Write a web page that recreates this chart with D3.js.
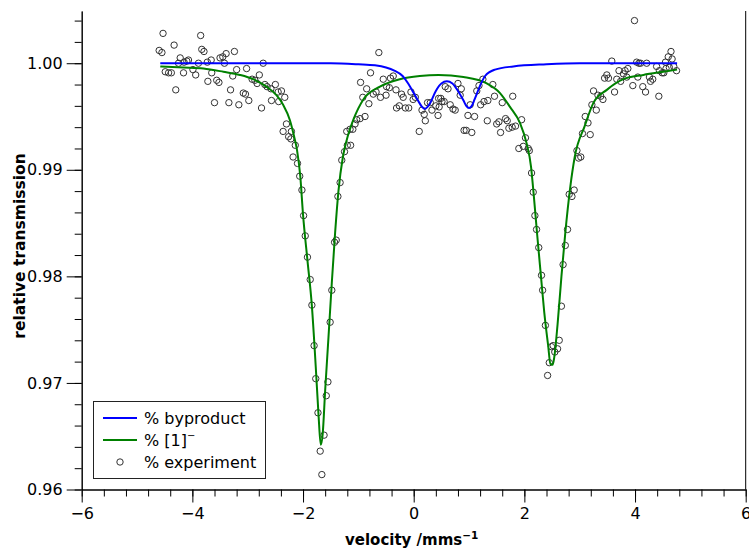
<!DOCTYPE html>
<html><head><meta charset="utf-8">
<script src="https://cdn.jsdelivr.net/npm/d3@7"></script>
<style>body{margin:0;background:#fff}svg{display:block}</style>
</head><body>
<svg id="c" width="749" height="550"></svg>
<script>
// experiment (velocity mm/s, relative transmission)
const expVelocity = [
-4.53,-3.85,-4.60,-4.55,-4.33,-3.83,-3.79,-4.22,-4.10,-4.07,-4.25,-4.15,-3.89,-3.73,-3.66,-3.50,-3.45,-3.39,-3.24,-3.42,-2.72,
-4.49,-4.43,-4.38,-4.16,-3.99,-3.94,-3.65,-4.30,-3.72,-3.56,-3.52,-3.27,-3.20,-3.02,-3.31,-2.92,-2.87,-2.83,-2.79,
-3.08,-3.04,-2.98,-3.60,-3.34,-3.16,-2.75,-2.69,-2.65,-2.58,-2.50,-2.45,-2.39,-2.33,-2.57,-2.44,-2.30,-2.36,-2.21,-2.26,-2.22,-2.14,
-2.18,-2.10,-2.06,-2.02,-1.99,-1.96,-1.92,-1.87,-1.84,-1.80,-1.77,-1.73,-1.69,-1.66,
-1.62,-1.58,-1.55,-1.51,-1.48,-1.43,-1.40,-1.37,-1.33,-1.30,-1.25,
-1.20,-1.14,-1.21,-1.15,-1.10,-1.06,-1.03,-0.97,-0.88,-0.96,-0.92,-0.81,-0.85,-0.78,-0.73,-0.68,-0.63,-0.60,-0.55,-0.50,-0.49,
-0.44,-0.42,-0.37,-0.32,-0.31,-0.26,-0.22,-0.19,-0.15,-0.09,-0.05,-0.01,0.03,0.10,0.15,0.19,0.21,0.25,0.30,0.33,0.40,0.45,
0.46,0.49,0.51,0.57,0.62,0.55,0.66,0.44,0.71,0.75,0.80,0.86,0.84,0.91,0.95,0.98,1.10,1.05,1.02,1.14,1.18,1.25,1.21,1.27,1.34,1.33,
1.43,1.46,1.50,1.54,1.57,1.60,1.66,1.69,1.72,1.78,1.79,1.84,1.95,1.90,1.98,2.07,2.09,2.02,2.13,2.16,
2.19,2.22,2.26,2.31,2.33,2.38,2.45,2.42,2.49,2.52,2.55,2.60,2.63,2.67,2.70,2.74,2.78,2.81,2.86,2.90,2.95,2.98,3.02,
3.05,3.10,3.15,3.19,3.22,3.25,3.30,3.33,3.38,3.42,3.45,3.49,3.52,3.58,3.63,3.67,3.71,3.74,3.79,3.82,3.87,3.85,3.96,3.99,
4.03,4.07,4.10,4.05,4.14,4.19,4.21,4.26,4.28,4.32,4.39,4.43,4.44,4.49,4.52,4.55,4.60,4.65,4.67,4.56,4.62,4.70,4.75
];
const expTransmission = [
1.0028,1.0026,1.0012,1.0010,1.0017,1.0013,1.0011,1.0005,1.0002,1.0003,1.0000,1.0001,1.0000,1.0001,1.0003,1.0005,1.0006,1.0009,1.0011,1.0000,1.0000,
0.9992,0.9991,0.9991,0.9991,0.9994,0.9989,0.9991,0.9975,0.9983,0.9984,0.9982,0.9988,0.9994,0.9995,0.9975,0.9985,0.9984,0.9981,0.9989,
0.9972,0.9971,0.9965,0.9963,0.9963,0.9961,0.9958,0.9980,0.9978,0.9976,0.9980,0.9973,0.9974,0.9968,0.9965,0.9964,0.9943,0.9936,0.9936,0.9931,0.9929,0.9923,
0.9912,0.9906,0.9894,0.9881,0.9857,0.9838,0.9818,0.9797,0.9773,0.9735,0.9704,0.9672,0.9636,0.9614,
0.9651,0.9688,0.9701,0.9757,0.9787,0.9832,0.9834,0.9875,0.9888,0.9909,0.9917,
0.9923,0.9923,0.9936,0.9938,0.9938,0.9943,0.9947,0.9948,0.9950,0.9982,0.9968,0.9962,0.9976,0.9991,0.9971,0.9973,1.0010,0.9968,0.9985,0.9970,0.9978,
0.9977,0.9986,0.9988,0.9975,0.9958,0.9960,0.9971,0.9968,0.9958,0.9958,0.9973,0.9966,0.9968,0.9936,0.9956,0.9952,0.9946,0.9963,0.9963,0.9956,0.9960,0.9967,
0.9959,0.9967,0.9964,0.9978,0.9976,0.9964,0.9961,0.9951,0.9957,0.9956,0.9981,0.9976,0.9970,0.9937,0.9937,0.9951,0.9950,0.9935,0.9961,0.9974,0.9979,0.9985,0.9961,0.9964,0.9965,0.9946,
0.9980,0.9969,0.9943,0.9945,0.9935,0.9963,0.9948,0.9946,0.9939,0.9940,0.9969,0.9941,0.9947,0.9920,0.9922,0.9920,0.9918,0.9930,0.9897,0.9879,
0.9857,0.9844,0.9827,0.9801,0.9787,0.9754,0.9719,0.9707,0.9734,0.9735,0.9729,0.9732,0.9740,0.9772,0.9811,0.9829,0.9844,0.9877,0.9875,0.9881,0.9918,0.9911,0.9912,
0.9934,0.9950,0.9944,0.9933,0.9961,0.9974,0.9956,0.9970,0.9969,0.9966,0.9986,0.9989,0.9986,1.0002,0.9973,0.9985,0.9993,0.9983,0.9990,0.9993,0.9995,0.9987,0.9979,1.0040,
1.0001,1.0000,1.0000,0.9987,0.9978,0.9973,1.0000,0.9987,0.9983,0.9985,0.9997,0.9969,0.9993,0.9991,0.9991,1.0001,1.0006,1.0011,1.0004,0.9995,0.9996,0.9997,0.9993
];
// fit of [1]- (green)
const fitVelocity = [-4.58,-4.16,-3.80,-3.44,-3.14,-2.90,-2.66,-2.48,-2.36,-2.24,-2.16,-2.11,-2.05,-2.00,-1.92,-1.84,-1.77,-1.72,-1.68,-1.645,-1.60,-1.54,-1.48,-1.42,-1.36,-1.28,-1.21,-1.09,-0.91,-0.61,-0.25,0.11,0.45,0.90,1.32,1.56,1.74,1.92,2.04,2.12,2.17,2.23,2.30,2.36,2.43,2.47,2.51,2.54,2.60,2.67,2.74,2.83,2.91,3.09,3.25,3.49,3.79,4.15,4.51,4.76];
const fitTransmission = [0.9997,0.9996,0.9995,0.9992,0.9989,0.9985,0.9978,0.9970,0.9961,0.9947,0.9931,0.9919,0.9894,0.9858,0.9815,0.9772,0.9715,0.9670,0.9642,0.9652,0.9693,0.9743,0.9794,0.9841,0.9880,0.9912,0.9928,0.9947,0.9966,0.9978,0.9985,0.9988,0.9989,0.9987,0.9981,0.9972,0.9959,0.9944,0.9925,0.9903,0.9876,0.9840,0.9800,0.9766,0.9735,0.9718,0.9717,0.9724,0.9755,0.9800,0.9841,0.9884,0.9912,0.9941,0.9963,0.9975,0.9985,0.9989,0.9992,0.9994];
// byproduct (blue)
const byVelocity = [-4.58,-3.0,-1.5,-1.0,-0.7,-0.5,-0.35,-0.2,-0.1,0.0,0.1,0.15,0.2,0.25,0.3,0.4,0.5,0.6,0.7,0.8,0.9,0.95,1.0,1.05,1.1,1.2,1.29,1.47,1.8,2.4,3.0,4.76];
const byTransmission = [1.0000,1.0000,1.0000,0.9999,0.9998,0.9996,0.9993,0.9988,0.9981,0.9972,0.9963,0.9959,0.9957,0.9959,0.9963,0.9974,0.9981,0.9983,0.9981,0.9974,0.9965,0.9960,0.9958,0.9960,0.9966,0.9979,0.9988,0.9994,0.9997,0.9999,1.0000,1.0000];

const xTicks = [-6,-4,-2,0,2,4,6];
const yTicks = [0.96,0.97,0.98,0.99,1.00];
const legendLabels = ["% byproduct","% [1]","% experiment"];
const xTitle = "velocity /mms";
const yTitle = "relative transmission";

const svg = d3.select("#c");
const FONT = "'DejaVu Sans', Verdana, sans-serif";
const x = d3.scaleLinear().domain([-6,6]).range([81.7,745.7]);
const y = d3.scaleLinear().domain([0.96,1.0049]).range([489.5,11]);

const xMinor = d3.range(-6,6.001,0.4).map(v=>+v.toFixed(2));
const yMinor = d3.range(0.96,1.0041,0.002).map(v=>+v.toFixed(3));

// x axis
const gx = svg.append("g").attr("transform",`translate(0,${y(0.96)})`);
gx.append("g").call(d3.axisBottom(x).tickValues(xMinor).tickSize(7).tickSizeOuter(0).tickFormat(""));
gx.append("g").call(d3.axisBottom(x).tickValues(xTicks).tickSize(13).tickSizeOuter(0).tickPadding(5));
gx.selectAll("text").attr("font-family",FONT).attr("font-size",16).attr("fill","#000");
gx.selectAll("path,line").attr("stroke","#000");

// y axis
const gy = svg.append("g").attr("transform",`translate(${x(-6)},0)`);
gy.append("g").call(d3.axisLeft(y).tickValues(yMinor).tickSize(7).tickSizeOuter(0).tickFormat(""));
gy.append("g").call(d3.axisLeft(y).tickValues(yTicks).tickSize(15).tickSizeOuter(0).tickPadding(4).tickFormat(d3.format(".2f")));
gy.selectAll("text").attr("font-family",FONT).attr("font-size",16).attr("fill","#000");
gy.selectAll("path,line").attr("stroke","#000");

// right frame line
svg.append("line").attr("x1",x(6)).attr("x2",x(6)).attr("y1",y.range()[1]).attr("y2",y.range()[0]).attr("stroke","#000");

// points
const pts = expVelocity.map((v,i)=>({v, t:expTransmission[i]}));
svg.append("g").selectAll("circle").data(pts).join("circle")
  .attr("cx",d=>x(d.v)).attr("cy",d=>y(d.t)).attr("r",3.2)
  .attr("fill","none").attr("stroke","#333").attr("stroke-width",1);

const line = d3.line().x(d=>x(d[0])).y(d=>y(d[1])).curve(d3.curveMonotoneX);
svg.append("path").datum(fitVelocity.map((v,i)=>[v,fitTransmission[i]]))
  .attr("d",line).attr("fill","none").attr("stroke","#008000").attr("stroke-width",2);
svg.append("path").datum(byVelocity.map((v,i)=>[v,byTransmission[i]]))
  .attr("d",line).attr("fill","none").attr("stroke","#0000ff").attr("stroke-width",2);

// axis titles
svg.append("text").attr("x",x(0)-2).attr("y",545).attr("text-anchor","middle")
  .attr("font-family",FONT).attr("font-size",15).attr("font-weight","bold")
  .text(xTitle).append("tspan").attr("font-size",10.5).attr("dy",-6).text("\u22121");
svg.append("text").attr("transform",`translate(25,246) rotate(-90)`).attr("text-anchor","middle")
  .attr("font-family",FONT).attr("font-size",15.5).attr("font-weight","bold").text(yTitle);

// legend
const lg = svg.append("g");
lg.append("rect").attr("x",93.5).attr("y",401.5).attr("width",172).attr("height",77)
  .attr("fill","#fff").attr("stroke","#222").attr("stroke-width",1);
const rows = [418, 440, 462];
lg.append("line").attr("x1",103).attr("x2",137).attr("y1",rows[0]).attr("y2",rows[0]).attr("stroke","#0000ff").attr("stroke-width",2);
lg.append("line").attr("x1",103).attr("x2",137).attr("y1",rows[1]).attr("y2",rows[1]).attr("stroke","#008000").attr("stroke-width",2);
lg.append("circle").attr("cx",120).attr("cy",rows[2]).attr("r",3.2).attr("fill","none").attr("stroke","#333");
legendLabels.forEach((s,i)=>{
  const t = lg.append("text").attr("x",144).attr("y",rows[i]+6).attr("font-family",FONT).attr("font-size",16).attr("fill","#000").text(s);
  if(i===1) t.append("tspan").attr("font-size",10).attr("dy",-7).text("\u2212");
});
</script>
</body></html>
